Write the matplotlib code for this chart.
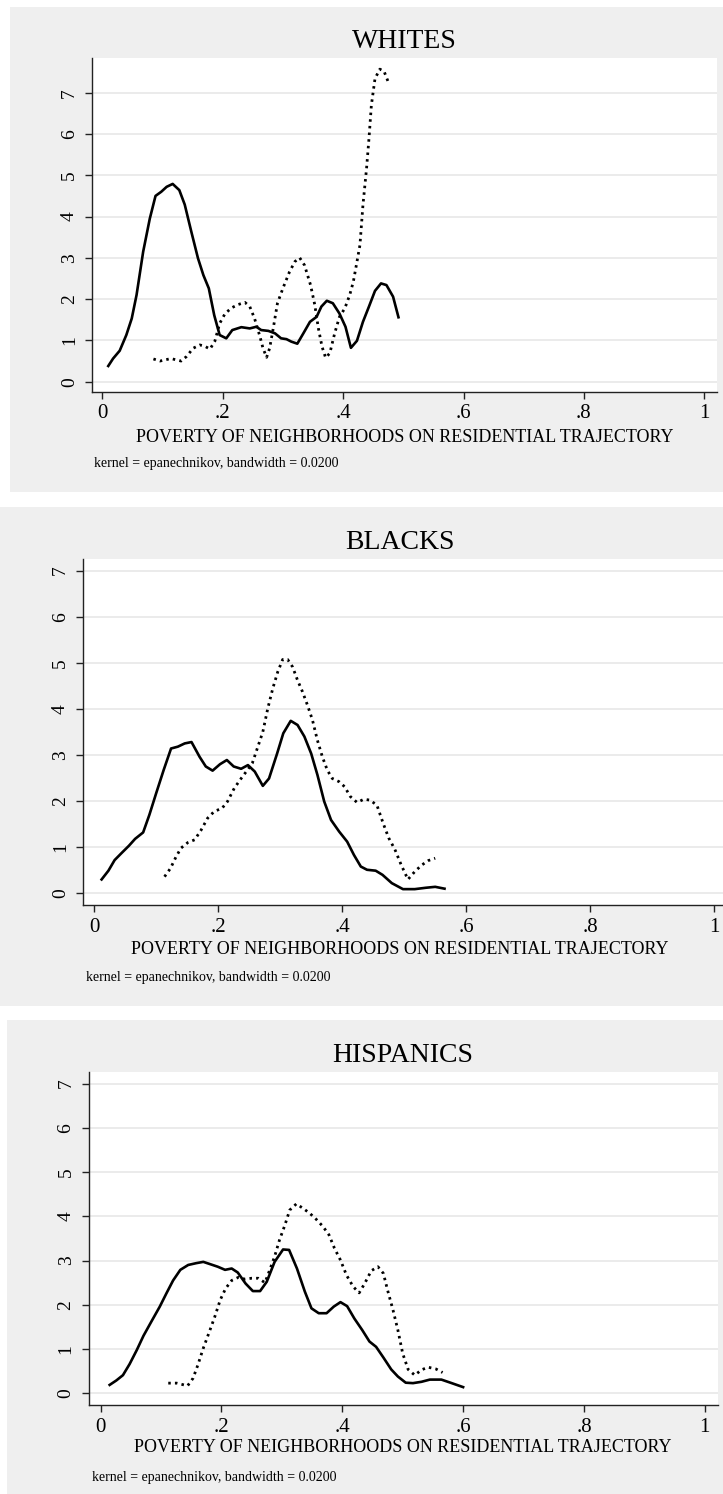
import numpy as np
import matplotlib.pyplot as plt
from matplotlib.patches import Rectangle

plt.rcParams['font.family'] = ['Liberation Serif', 'DejaVu Serif']

# kernel density estimates, solid and dotted groups, per panel
whites_solid_x = [0.010, 0.018, 0.029, 0.040, 0.049, 0.057, 0.068, 0.079, 0.0885, 0.098,
                  0.107, 0.117, 0.128, 0.137, 0.148, 0.159, 0.168, 0.177, 0.186, 0.195,
                  0.206, 0.216, 0.231, 0.245, 0.256, 0.264, 0.276, 0.287, 0.297, 0.306,
                  0.314, 0.324, 0.334, 0.345, 0.356, 0.364, 0.373, 0.383, 0.394, 0.404,
                  0.413, 0.423, 0.433, 0.443, 0.453, 0.463, 0.472, 0.483, 0.492]
whites_solid_y = [0.38, 0.56, 0.75, 1.13, 1.53, 2.10, 3.15, 3.95, 4.50, 4.60,
                  4.72, 4.79, 4.64, 4.29, 3.63, 2.99, 2.58, 2.26, 1.61, 1.13,
                  1.05, 1.25, 1.32, 1.29, 1.33, 1.25, 1.23, 1.17, 1.05, 1.03,
                  0.97, 0.92, 1.17, 1.45, 1.57, 1.82, 1.96, 1.90, 1.65, 1.33,
                  0.82, 0.99, 1.45, 1.82, 2.20, 2.38, 2.34, 2.06, 1.56]
whites_dot_x = [0.085, 0.096, 0.114, 0.131, 0.140, 0.151, 0.162, 0.170, 0.179, 0.187,
                0.195, 0.204, 0.215, 0.226, 0.237, 0.245, 0.253, 0.262, 0.267, 0.273,
                0.278, 0.284, 0.291, 0.300, 0.311, 0.320, 0.328, 0.336, 0.346, 0.353,
                0.359, 0.365, 0.371, 0.378, 0.386, 0.394, 0.403, 0.411, 0.417, 0.422,
                0.428, 0.433, 0.439, 0.443, 0.447, 0.453, 0.461, 0.468, 0.475]
whites_dot_y = [0.55, 0.50, 0.56, 0.50, 0.61, 0.81, 0.89, 0.86, 0.79, 0.98,
                1.41, 1.65, 1.79, 1.87, 1.92, 1.82, 1.53, 1.09, 0.81, 0.59,
                0.81, 1.29, 1.90, 2.26, 2.66, 2.91, 3.00, 2.82, 2.34, 1.86,
                1.29, 0.85, 0.58, 0.69, 1.17, 1.57, 1.78, 2.10, 2.42, 2.82,
                3.31, 4.28, 5.17, 5.89, 6.70, 7.34, 7.57, 7.52, 7.26]

blacks_solid_x = [0.012, 0.023, 0.033, 0.044, 0.056, 0.066, 0.079, 0.089, 0.100, 0.112,
                  0.124, 0.135, 0.146, 0.157, 0.170, 0.180, 0.191, 0.203, 0.214, 0.225,
                  0.237, 0.248, 0.259, 0.272, 0.282, 0.295, 0.305, 0.317, 0.328, 0.339,
                  0.350, 0.360, 0.371, 0.382, 0.395, 0.408, 0.419, 0.430, 0.440, 0.454,
                  0.465, 0.480, 0.498, 0.517, 0.535, 0.550, 0.565]
blacks_solid_y = [0.30, 0.49, 0.72, 0.87, 1.03, 1.18, 1.32, 1.70, 2.17, 2.67,
                  3.14, 3.18, 3.25, 3.28, 2.96, 2.75, 2.66, 2.80, 2.89, 2.75,
                  2.70, 2.78, 2.64, 2.33, 2.49, 3.03, 3.47, 3.74, 3.65, 3.40,
                  3.03, 2.57, 1.99, 1.59, 1.34, 1.12, 0.83, 0.58, 0.51, 0.49,
                  0.40, 0.22, 0.09, 0.09, 0.12, 0.14, 0.10]
blacks_dot_x = [0.1135, 0.123, 0.132, 0.140, 0.151, 0.162, 0.172, 0.183, 0.194, 0.206,
                0.215, 0.226, 0.237, 0.247, 0.255, 0.263, 0.272, 0.280, 0.288, 0.296,
                0.304, 0.312, 0.320, 0.328, 0.336, 0.344, 0.352, 0.360, 0.368, 0.376,
                0.384, 0.395, 0.404, 0.413, 0.424, 0.435, 0.445, 0.456, 0.466, 0.475,
                0.485, 0.495, 0.506, 0.517, 0.528, 0.539, 0.550]
blacks_dot_y = [0.36, 0.54, 0.79, 0.98, 1.10, 1.16, 1.36, 1.63, 1.78, 1.84,
                1.99, 2.28, 2.49, 2.67, 2.82, 3.14, 3.50, 4.01, 4.44, 4.80,
                5.07, 5.07, 4.91, 4.62, 4.37, 4.08, 3.76, 3.32, 2.96, 2.67,
                2.49, 2.42, 2.31, 2.10, 1.97, 2.04, 2.02, 1.91, 1.52, 1.20,
                0.95, 0.62, 0.30, 0.47, 0.61, 0.71, 0.76]

hisp_solid_x = [0.015, 0.026, 0.037, 0.048, 0.060, 0.071, 0.084, 0.098, 0.109, 0.120,
                0.132, 0.145, 0.158, 0.170, 0.181, 0.194, 0.206, 0.217, 0.227, 0.240,
                0.252, 0.264, 0.275, 0.288, 0.302, 0.312, 0.325, 0.338, 0.349, 0.361,
                0.374, 0.386, 0.397, 0.408, 0.420, 0.433, 0.445, 0.456, 0.468, 0.481,
                0.492, 0.505, 0.517, 0.531, 0.545, 0.564, 0.579, 0.600]
hisp_solid_y = [0.19, 0.29, 0.41, 0.66, 0.98, 1.30, 1.62, 1.96, 2.26, 2.55,
                2.79, 2.90, 2.94, 2.97, 2.92, 2.86, 2.79, 2.82, 2.73, 2.48,
                2.31, 2.31, 2.52, 2.97, 3.25, 3.24, 2.82, 2.30, 1.92, 1.81,
                1.81, 1.96, 2.06, 1.97, 1.69, 1.43, 1.17, 1.05, 0.81, 0.54,
                0.38, 0.24, 0.23, 0.26, 0.31, 0.31, 0.24, 0.14]
hisp_dot_x = [0.112, 0.126, 0.144, 0.153, 0.161, 0.170, 0.180, 0.189, 0.198, 0.207,
              0.217, 0.228, 0.239, 0.250, 0.261, 0.272, 0.280, 0.288, 0.296, 0.305,
              0.313, 0.324, 0.335, 0.346, 0.357, 0.368, 0.378, 0.387, 0.397, 0.407,
              0.418, 0.428, 0.437, 0.448, 0.459, 0.468, 0.475, 0.484, 0.492, 0.500,
              0.509, 0.520, 0.531, 0.542, 0.555, 0.566]
hisp_dot_y = [0.23, 0.23, 0.17, 0.34, 0.64, 1.02, 1.39, 1.73, 2.11, 2.37,
              2.55, 2.62, 2.58, 2.60, 2.60, 2.50, 2.79, 3.09, 3.46, 3.80,
              4.14, 4.28, 4.18, 4.07, 3.93, 3.77, 3.58, 3.28, 3.01, 2.67,
              2.41, 2.27, 2.48, 2.77, 2.86, 2.71, 2.33, 1.88, 1.43, 0.90,
              0.54, 0.41, 0.53, 0.59, 0.55, 0.47]

titles = ['WHITES', 'BLACKS', 'HISPANICS']
xticks = [0, 0.2, 0.4, 0.6, 0.8, 1.0]
xticklabels = ['0', '.2', '.4', '.6', '.8', '1']
yticks = [0, 1, 2, 3, 4, 5, 6, 7]
xlabel = 'POVERTY OF NEIGHBORHOODS ON RESIDENTIAL TRAJECTORY'
note = 'kernel = epanechnikov, bandwidth = 0.0200'

W, H = 723, 1494
BG = '#efefef'

# pixel layout: gray panel box, plot box, axis limits, text rows
panels = [
    dict(box=(10, 7, 723, 492), plot=(92, 58, 717, 392),
         xlim=(-0.017, 1.021), ylim=(-0.25, 7.84), title_y=42, xlab_y=437, note_y=463, note_x=94),
    dict(box=(0, 507, 723, 1006), plot=(83, 559, 731, 905),
         xlim=(-0.018, 1.027), ylim=(-0.254, 7.25), title_y=542, xlab_y=950, note_y=977, note_x=86),
    dict(box=(7, 1020, 723, 1494), plot=(88.5, 1072, 717.5, 1405),
         xlim=(-0.020, 1.021), ylim=(-0.264, 7.26), title_y=1055, xlab_y=1448, note_y=1477, note_x=92),
]
series = [
    (whites_solid_x, whites_solid_y, whites_dot_x, whites_dot_y),
    (blacks_solid_x, blacks_solid_y, blacks_dot_x, blacks_dot_y),
    (hisp_solid_x, hisp_solid_y, hisp_dot_x, hisp_dot_y),
]

fig = plt.figure(figsize=(W / 100, H / 100), dpi=100)


def fx(px):
    return px / W


def fy(py):
    return 1 - py / H


for p, title, (sx, sy, dx, dy) in zip(panels, titles, series):
    x0, y0, x1, y1 = p['box']
    fig.add_artist(Rectangle((fx(x0), fy(y1)), fx(x1 - x0), (y1 - y0) / H,
                             transform=fig.transFigure, facecolor=BG,
                             edgecolor='none', zorder=0))
    l, t, r, b = p['plot']
    ax = fig.add_axes([fx(l), fy(b), fx(r - l), (b - t) / H])
    ax.set_facecolor('white')
    ax.set_xlim(*p['xlim'])
    ax.set_ylim(*p['ylim'])
    ax.set_xticks(xticks)
    ax.set_xticklabels(xticklabels)
    ax.set_yticks(yticks)
    ax.set_yticklabels([str(v) for v in yticks], rotation=90, va='center')
    for v in yticks:
        ax.axhline(v, color='#e6e6e6', lw=1.1, zorder=1)
    for s in ['top', 'right']:
        ax.spines[s].set_visible(False)
    for s in ['left', 'bottom']:
        ax.spines[s].set_color('#222222')
        ax.spines[s].set_linewidth(1.0)
    ax.tick_params(axis='x', length=5, width=1, labelsize=15, pad=4, color='#222222')
    ax.tick_params(axis='y', length=5, width=1, labelsize=14, pad=5, color='#222222')

    ax.plot(sx, sy, color='black', lw=1.9, zorder=3, solid_joinstyle='round')
    ax.plot(dx, dy, color='black', lw=2.0, linestyle=(0, (0.9, 1.5)), zorder=3)

    cx = fx((l + min(r, 717)) / 2)
    fig.text(cx, fy(p['title_y']), title, ha='center', va='center', fontsize=20)
    fig.text(cx, fy(p['xlab_y']), xlabel, ha='center', va='center', fontsize=13)
    fig.text(fx(p['note_x']), fy(p['note_y']), note, ha='left', va='center', fontsize=10)

fig.savefig('out.png', dpi=100)
